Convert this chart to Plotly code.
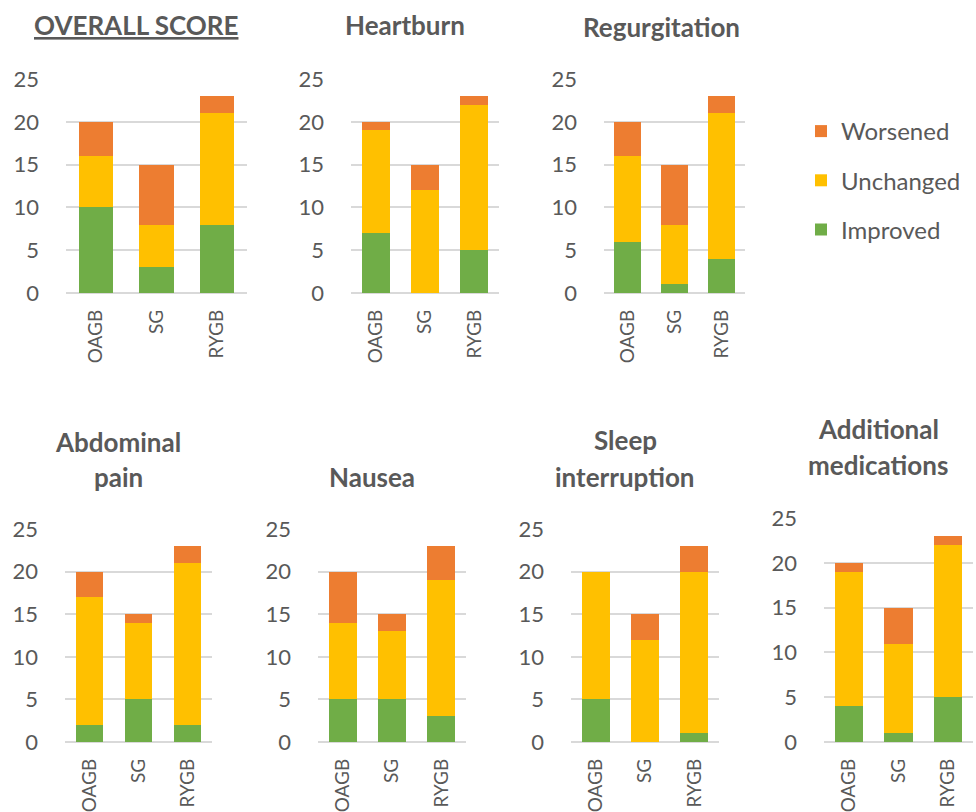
import plotly.graph_objects as go

categories = ["OAGB", "SG", "RYGB"]
panel_titles = ["OVERALL SCORE", "Heartburn", "Regurgitation", "Abdominal pain",
                "Nausea", "Sleep interruption", "Additional medications"]

improved = [
    [10, 3, 8],   # Overall
    [7, 0, 5],    # Heartburn
    [6, 1, 4],    # Regurgitation
    [2, 5, 2],    # Abdominal pain
    [5, 5, 3],    # Nausea
    [5, 0, 1],    # Sleep interruption
    [4, 1, 5],    # Additional medications
]
unchanged = [
    [6, 5, 13],
    [12, 12, 17],
    [10, 7, 17],
    [15, 9, 19],
    [9, 8, 16],
    [15, 12, 19],
    [15, 10, 17],
]
worsened = [
    [4, 7, 2],
    [1, 3, 1],
    [4, 7, 2],
    [3, 1, 2],
    [6, 2, 4],
    [0, 3, 3],
    [1, 4, 1],
]
y_ticks = [0, 5, 10, 15, 20, 25]

W, H = 976, 812
# pixel boxes: (x0, x1, y_top(25), y_bottom(0))
boxes = [
    (66, 247, 79, 293),
    (351, 499, 79, 293),
    (604, 745, 79, 293),
    (65, 212, 529, 742),
    (318, 466, 529, 742),
    (571, 719, 529, 742),
    (824, 973, 518, 742),
]
# title lines: (text lines, center x, y centers)
title_pos = [
    (["<u>OVERALL SCORE</u>"], 136, [25]),
    (["Heartburn"], 405, [25]),
    (["Regurgitation"], 661, [27]),
    (["Abdominal", "pain"], 118, [442, 477]),
    (["Nausea"], 372, [477]),
    (["Sleep", "interruption"], 625, [440, 477]),
    (["Additional", "medications"], 878, [429, 465]),
]

colors = {"Improved": "#70AD47", "Unchanged": "#FFC000", "Worsened": "#ED7D31"}
ranks = {"Worsened": 1, "Unchanged": 2, "Improved": 3}
FONT = "Lato, 'Open Sans', sans-serif"
GRAY = "#595959"

fig = go.Figure()
layout = dict(
    width=W, height=H, margin=dict(l=0, r=0, t=0, b=0, autoexpand=False),
    paper_bgcolor="white", plot_bgcolor="white",
    barmode="stack", bargap=0.43,
    font=dict(family=FONT, color=GRAY),
    showlegend=True,
    legend=dict(
        x=801 / W, y=1 - 109 / H, xanchor="left", yanchor="top",
        traceorder="grouped", tracegroupgap=15,
        font=dict(size=24, color=GRAY, family=FONT),
        bgcolor="rgba(0,0,0,0)",
    ),
)
annotations = []
for i in range(7):
    ax = "" if i == 0 else str(i + 1)
    x0, x1, yt, yb = boxes[i]
    for name, data in (("Improved", improved), ("Unchanged", unchanged), ("Worsened", worsened)):
        fig.add_trace(go.Bar(
            x=categories, y=data[i], name=name,
            marker=dict(color=colors[name], line=dict(width=0)),
            xaxis="x" + ax, yaxis="y" + ax,
            legendgroup=name, legendrank=ranks[name], showlegend=(i == 0),
            hoverinfo="x+y+name",
        ))
    layout["xaxis" + ax] = dict(
        domain=[x0 / W, x1 / W], anchor="y" + ax,
        type="category", range=[-0.5, 2.5], automargin=False,
        tickangle=-90, tickfont=dict(size=19, color=GRAY, family=FONT),
        showline=False, showgrid=False, ticks="", ticklabelstandoff=12,
        fixedrange=True,
    )
    layout["yaxis" + ax] = dict(
        domain=[1 - yb / H, 1 - yt / H], anchor="x" + ax,
        range=[0, 25.02], tickvals=y_ticks, automargin=False,
        tickfont=dict(size=22, color=GRAY, family=FONT),
        showgrid=True, gridcolor="#D9D9D9", gridwidth=1.5,
        zeroline=True, zerolinecolor="#D9D9D9", zerolinewidth=1.5,
        showline=False, ticks="", ticklabelstandoff=26,
        fixedrange=True,
    )
    lines, cx, ys = title_pos[i]
    for txt, cy in zip(lines, ys):
        annotations.append(dict(
            text="<b>" + txt + "</b>", x=cx / W, y=1 - cy / H,
            xref="paper", yref="paper", xanchor="center", yanchor="middle",
            showarrow=False, font=dict(size=26, color=GRAY, family=FONT),
        ))
layout["annotations"] = annotations
fig.update_layout(**layout)
fig.write_html("out.html")
